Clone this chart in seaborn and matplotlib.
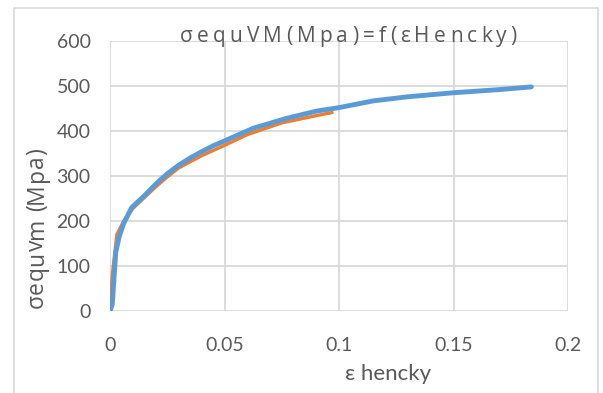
import matplotlib
matplotlib.use("Agg")
import matplotlib.pyplot as plt
import seaborn as sns
import pandas as pd
from matplotlib.patches import Rectangle

# Hencky strain vs von Mises equivalent stress, two runs
strain_fit = [0.0, 0.001, 0.0025, 0.004, 0.006, 0.0095, 0.012, 0.015, 0.02, 0.025,
              0.03, 0.035, 0.04, 0.045, 0.05, 0.0625, 0.077, 0.09, 0.1, 0.115,
              0.13, 0.15, 0.17, 0.184]
stress_fit = [0, 15, 130, 165, 195, 230, 242, 256, 282, 305,
              324, 340, 354, 367, 378, 406, 428, 444, 452, 467,
              476, 485, 492, 498]

strain_test = [0.0, 0.001, 0.003, 0.006, 0.01, 0.015, 0.02, 0.025, 0.03, 0.04,
               0.05, 0.06, 0.075, 0.09, 0.097]
stress_test = [0, 80, 170, 200, 228, 252, 276, 298, 318, 345,
               368, 392, 418, 434, 441]

x_ticks = [0, 0.05, 0.1, 0.15, 0.2]
x_tick_labels = ["0", "0.05", "0.1", "0.15", "0.2"]
y_ticks = [0, 100, 200, 300, 400, 500, 600]

title = "σequVM(Mpa)=f(εHencky)"
x_label = "ε hencky"
y_label = "σequvm (Mpa)"

sns.set_theme(style="white")
plt.rcParams["font.family"] = ["Lato", "DejaVu Sans"]

TEXT = "#595959"
GRID = "#d9d9d9"
BLUE = "#5b9bd5"
ORANGE = "#ed7d31"
LABEL_FONT = ["Open Sans", "DejaVu Sans"]

W, H = 603, 393
fig = plt.figure(figsize=(W / 100, H / 100), dpi=100)
ax = fig.add_axes([110 / W, (H - 311) / H, (568 - 110) / W, (311 - 41) / H])

test_df = pd.DataFrame({"strain": strain_test, "stress": stress_test})
fit_df = pd.DataFrame({"strain": strain_fit, "stress": stress_fit})

sns.lineplot(data=test_df, x="strain", y="stress", ax=ax, color=ORANGE,
             linewidth=2.4, sort=False, estimator=None,
             solid_capstyle="round", solid_joinstyle="round", zorder=3)
sns.lineplot(data=fit_df, x="strain", y="stress", ax=ax, color=BLUE,
             linewidth=3.5, sort=False, estimator=None,
             solid_capstyle="round", solid_joinstyle="round", zorder=4)

ax.set_xlim(0, 0.2)
ax.set_ylim(0, 600)
ax.set_xticks(x_ticks)
ax.set_xticklabels(x_tick_labels)
ax.set_yticks(y_ticks)
ax.grid(True, color=GRID, linewidth=1.3)
ax.set_axisbelow(True)
for s in ax.spines.values():
    s.set_visible(False)
ax.tick_params(axis="both", length=0, labelsize=14, labelcolor=TEXT)
ax.tick_params(axis="y", pad=14)
ax.tick_params(axis="x", pad=19)
ax.set_xlabel("")
ax.set_ylabel("")

renderer = fig.canvas.get_renderer()


def spaced_text(s, start_px, pos_px, length_px, size, family, vertical=False):
    """Draw s one glyph at a time, spread evenly over length_px pixels."""
    widths = []
    for ch in s:
        probe = fig.text(0, 0, ch, fontsize=size, family=family)
        widths.append(probe.get_window_extent(renderer).width)
        probe.remove()
    gap = (length_px - sum(widths)) / (len(s) - 1)
    cur = start_px
    for ch, w in zip(s, widths):
        if vertical:
            fig.text(pos_px / W, 1 - cur / H, ch, fontsize=size, color=TEXT,
                     family=family, rotation=90, rotation_mode="anchor",
                     ha="left", va="center")
            cur -= w + gap
        else:
            fig.text(cur / W, 1 - pos_px / H, ch, fontsize=size, color=TEXT,
                     family=family, ha="left", va="baseline")
            cur += w + gap


# axis titles
fig.text(388 / W, 1 - 374 / H, x_label, ha="center", va="center",
         fontsize=16, color=TEXT)
spaced_text(y_label, 308, 37, 160, 16.5, LABEL_FONT, vertical=True)

# letter-spaced chart title
spaced_text(title, 180, 42, 337, 15, LABEL_FONT)

# chart-area border
fig.patches.append(Rectangle((14 / W, -0.01), (598 - 14) / W, 1 - 8 / H + 0.01,
                             transform=fig.transFigure, fill=False,
                             edgecolor=GRID, linewidth=1.2))

fig.savefig("out.png", dpi=100)
